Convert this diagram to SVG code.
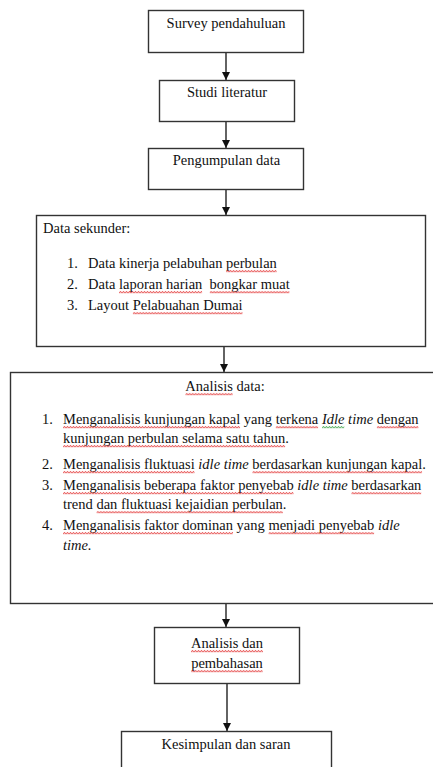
<svg xmlns="http://www.w3.org/2000/svg" width="433" height="767" viewBox="0 0 433 767">
<defs>
<style>
.box{fill:#fff;stroke:#333;stroke-width:1.4}
.t{font-family:"Liberation Serif","Times New Roman",serif;font-size:14.5px;fill:#111}
.c{text-anchor:middle}
.i{font-style:italic}
.conn{stroke:#222;stroke-width:1.4;fill:none}
.r{fill:url(#zr)}
.g{fill:url(#zg)}
</style>
<pattern id="zr" width="3" height="3" patternUnits="userSpaceOnUse">
<path d="M0,2.5 L1.5,0.5 L3,2.5" stroke="#e02828" stroke-width="1" fill="none"/>
</pattern>
<pattern id="zg" width="3" height="3" patternUnits="userSpaceOnUse">
<path d="M0,2.5 L1.5,0.5 L3,2.5" stroke="#2a9a36" stroke-width="1" fill="none"/>
</pattern>
<marker id="ah" viewBox="0 0 10 10" refX="10" refY="5" markerWidth="9" markerHeight="8" markerUnits="userSpaceOnUse" orient="auto">
<path d="M0,0 L10,5 L0,10 z" fill="#111"/>
</marker>
</defs>
<rect width="433" height="767" fill="#fff"/>
<g id="connectors">
<line class="conn" x1="226" y1="52" x2="226" y2="80" marker-end="url(#ah)"/>
<line class="conn" x1="226" y1="121" x2="226" y2="148" marker-end="url(#ah)"/>
<line class="conn" x1="226" y1="189" x2="226" y2="215" marker-end="url(#ah)"/>
<line class="conn" x1="224" y1="346" x2="224" y2="372" marker-end="url(#ah)"/>
<line class="conn" x1="226" y1="604" x2="226" y2="627" marker-end="url(#ah)"/>
<line class="conn" x1="227" y1="683" x2="227" y2="731" marker-end="url(#ah)"/>
</g>
<g id="survey">
<rect class="box" x="148.5" y="10.5" width="155" height="42"/>
<text class="t c" x="226" y="28"><tspan>Survey</tspan> <tspan>pendahuluan</tspan></text>
</g>
<g id="studi">
<rect class="box" x="159.5" y="80.5" width="135" height="41"/>
<text class="t c" x="227" y="97"><tspan>Studi</tspan> <tspan>literatur</tspan></text>
</g>
<g id="pengumpulan">
<rect class="box" x="148.5" y="148.5" width="155" height="41"/>
<text class="t c" x="226.5" y="165"><tspan>Pengumpulan</tspan> <tspan>data</tspan></text>
</g>
<g id="sekunder">
<rect class="box" x="36.5" y="215.5" width="389" height="131"/>
<text class="t" x="43" y="233"><tspan>Data</tspan> <tspan>sekunder:</tspan></text>
<text class="t" x="67" y="268">1.</text>
<text class="t" x="88" y="268"><tspan>Data</tspan> <tspan>kinerja</tspan> <tspan>pelabuhan</tspan> <tspan>perbulan</tspan></text>
<text class="t" x="67" y="289">2.</text>
<text class="t" x="88" y="289" xml:space="preserve"><tspan>Data</tspan> <tspan>laporan</tspan> <tspan>harian</tspan>  <tspan>bongkar</tspan> <tspan>muat</tspan></text>
<text class="t" x="67" y="310">3.</text>
<text class="t" x="88" y="310"><tspan>Layout</tspan> <tspan>Pelabuahan</tspan> <tspan>Dumai</tspan></text>
<svg x="226.1" y="269.8" width="50.7" height="3"><rect class="r" width="100%" height="100%"/></svg>
<svg x="119" y="290.8" width="83.3" height="3"><rect class="r" width="100%" height="100%"/></svg>
<svg x="209.6" y="290.8" width="80" height="3"><rect class="r" width="100%" height="100%"/></svg>
<svg x="132.7" y="311.8" width="110" height="3"><rect class="r" width="100%" height="100%"/></svg>
</g>
<g id="analisis">
<rect class="box" x="10.5" y="372.5" width="440" height="231"/>
<text class="t c" x="225" y="391"><tspan>Analisis</tspan> <tspan>data:</tspan></text>
<text class="t" x="42" y="424">1.</text>
<text class="t" x="63" y="424"><tspan>Menganalisis</tspan> <tspan>kunjungan</tspan> <tspan>kapal</tspan> <tspan>yang</tspan> <tspan>terkena</tspan> <tspan class="i">Idle</tspan> <tspan class="i">time</tspan> <tspan>dengan</tspan></text>
<text class="t" x="63" y="443"><tspan>kunjungan</tspan> <tspan>perbulan</tspan> <tspan>selama</tspan> <tspan>satu</tspan> <tspan>tahun.</tspan></text>
<text class="t" x="42" y="469">2.</text>
<text class="t" x="63" y="469"><tspan>Menganalisis</tspan> <tspan>fluktuasi</tspan> <tspan class="i">idle</tspan> <tspan class="i">time</tspan> <tspan>berdasarkan</tspan> <tspan>kunjungan</tspan> <tspan>kapal.</tspan></text>
<text class="t" x="42" y="490">3.</text>
<text class="t" x="63" y="490"><tspan>Menganalisis</tspan> <tspan>beberapa</tspan> <tspan>faktor</tspan> <tspan>penyebab</tspan> <tspan class="i">idle</tspan> <tspan class="i">time</tspan> <tspan>berdasarkan</tspan></text>
<text class="t" x="63" y="509"><tspan>trend</tspan> <tspan>dan</tspan> <tspan>fluktuasi</tspan> <tspan>kejaidian</tspan> <tspan>perbulan.</tspan></text>
<text class="t" x="42" y="530">4.</text>
<text class="t" x="63" y="530"><tspan>Menganalisis</tspan> <tspan>faktor</tspan> <tspan>dominan</tspan> <tspan>yang</tspan> <tspan>menjadi</tspan> <tspan>penyebab</tspan> <tspan class="i">idle</tspan></text>
<text class="t i" x="63" y="550">time.</text>
<svg x="185.3" y="392.8" width="47.5" height="3"><rect class="r" width="100%" height="100%"/></svg>
<svg x="63" y="425.8" width="177.2" height="3"><rect class="r" width="100%" height="100%"/></svg>
<svg x="275.6" y="425.8" width="42.7" height="3"><rect class="r" width="100%" height="100%"/></svg>
<svg x="322" y="425.8" width="22.5" height="3"><rect class="g" width="100%" height="100%"/></svg>
<svg x="376.7" y="425.8" width="41.9" height="3"><rect class="r" width="100%" height="100%"/></svg>
<svg x="63" y="444.8" width="222.3" height="3"><rect class="r" width="100%" height="100%"/></svg>
<svg x="63" y="470.8" width="131.7" height="3"><rect class="r" width="100%" height="100%"/></svg>
<svg x="252.3" y="470.8" width="169.9" height="3"><rect class="r" width="100%" height="100%"/></svg>
<svg x="63" y="491.8" width="230.7" height="3"><rect class="r" width="100%" height="100%"/></svg>
<svg x="351.3" y="491.8" width="70.1" height="3"><rect class="r" width="100%" height="100%"/></svg>
<svg x="96.4" y="510.8" width="186.5" height="3"><rect class="r" width="100%" height="100%"/></svg>
<svg x="63" y="531.8" width="170" height="3"><rect class="r" width="100%" height="100%"/></svg>
<svg x="268.4" y="531.8" width="105.9" height="3"><rect class="r" width="100%" height="100%"/></svg>
</g>
<g id="pembahasan">
<rect class="box" x="154.5" y="627.5" width="145" height="56"/>
<text class="t c" x="227" y="648"><tspan>Analisis</tspan> <tspan>dan</tspan></text>
<text class="t c" x="227" y="668">pembahasan</text>
<svg x="191" y="649.8" width="72" height="3"><rect class="r" width="100%" height="100%"/></svg>
<svg x="191.2" y="669.8" width="71.6" height="3"><rect class="r" width="100%" height="100%"/></svg>
</g>
<g id="kesimpulan">
<rect class="box" x="121.5" y="731.5" width="210" height="50"/>
<text class="t c" x="226" y="749"><tspan>Kesimpulan</tspan> <tspan>dan</tspan> <tspan>saran</tspan></text>
</g>
</svg>
